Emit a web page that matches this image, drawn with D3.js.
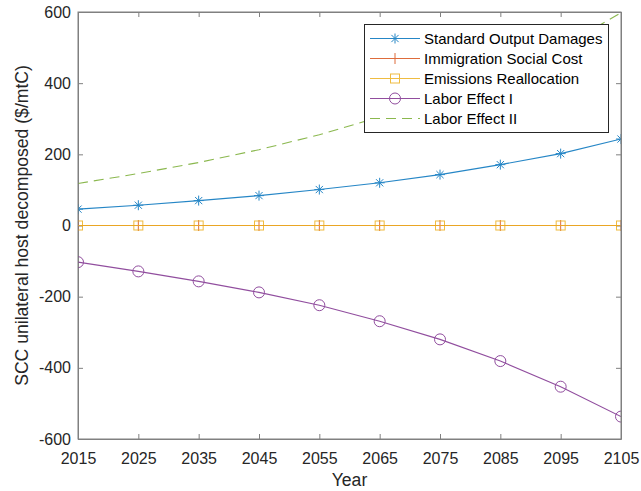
<!DOCTYPE html>
<html>
<head>
<meta charset="utf-8">
<script src="https://cdn.jsdelivr.net/npm/d3@7"></script>
<style>
  html, body { margin: 0; padding: 0; background: #fff; }
  svg { display: block; font-family: "Liberation Sans", Arial, Helvetica, sans-serif; }
</style>
</head>
<body>
<svg id="chart" width="641" height="491"></svg>
<script>
// Years on the horizontal axis
const years = [2015, 2025, 2035, 2045, 2055, 2065, 2075, 2085, 2095, 2105];

// Decomposed SCC components ($/mtC)
const standardOutputDamages = [46, 57, 70, 84, 101, 120, 143, 171, 202, 243];
const immigrationSocialCost = [0, 0, 0, 0, 0, 0, 0, 0, 0, 0];
const emissionsReallocation = [0, 0, 0, 0, 0, 0, 0, 0, 0, 0];
const laborEffectI = [-103, -129, -157, -188, -224, -269, -320, -381, -453, -537];
const laborEffectII = [118, 146, 177, 213, 255, 305, 362, 423, 499, 598];

const seriesNames = ["Standard Output Damages", "Immigration Social Cost", "Emissions Reallocation", "Labor Effect I", "Labor Effect II"];

const xTicks = [2015, 2025, 2035, 2045, 2055, 2065, 2075, 2085, 2095, 2105];
const yTicks = [-600, -400, -200, 0, 200, 400, 600];

const series = [
  { name: seriesNames[0], values: standardOutputDamages, color: "#0072BD", marker: "star", dash: null },
  { name: seriesNames[1], values: immigrationSocialCost, color: "#D95319", marker: "plus", dash: null },
  { name: seriesNames[2], values: emissionsReallocation, color: "#EDB120", marker: "square", dash: null },
  { name: seriesNames[3], values: laborEffectI, color: "#7E2F8E", marker: "circle", dash: null },
  { name: seriesNames[4], values: laborEffectII, color: "#77AC30", marker: null, dash: "10,6" }
];

const svg = d3.select("#chart");
const pLeft = 78, pRight = 621, pTop = 12, pBottom = 439;

const x = d3.scaleLinear().domain([2015, 2105]).range([pLeft, pRight]);
const y = d3.scaleLinear().domain([-600, 600]).range([pBottom, pTop]);

const axisColor = "#808080";
const textColor = "#262626";
const tickFont = 16;
const labelFont = 17.6;

// Plain hyphen for negative tick values
const fmt = d => String(d);

svg.append("defs").append("clipPath").attr("id", "plotClip")
  .append("rect").attr("x", pLeft).attr("y", pTop).attr("width", pRight - pLeft).attr("height", pBottom - pTop);

// Axes with inward ticks, mirrored on top and right
function styleAxis(g) {
  g.select(".domain").attr("stroke", axisColor);
  g.selectAll(".tick line").attr("stroke", axisColor);
  g.selectAll(".tick text").attr("fill", textColor).attr("font-size", tickFont);
}

svg.append("g").attr("transform", `translate(0,${pBottom})`)
  .call(d3.axisBottom(x).tickValues(xTicks).tickFormat(fmt).tickSizeInner(-5).tickSizeOuter(0).tickPadding(13.5))
  .call(styleAxis);
svg.append("g").attr("transform", `translate(0,${pTop})`)
  .call(d3.axisTop(x).tickValues(xTicks).tickFormat("").tickSizeInner(-5).tickSizeOuter(0))
  .call(styleAxis);
svg.append("g").attr("transform", `translate(${pLeft},0)`)
  .call(d3.axisLeft(y).tickValues(yTicks).tickFormat(fmt).tickSizeInner(-5).tickSizeOuter(0).tickPadding(7))
  .call(styleAxis);
svg.append("g").attr("transform", `translate(${pRight},0)`)
  .call(d3.axisRight(y).tickValues(yTicks).tickFormat("").tickSizeInner(-5).tickSizeOuter(0))
  .call(styleAxis);

// Axis titles
svg.append("text").attr("x", (pLeft + pRight) / 2).attr("y", 486)
  .attr("text-anchor", "middle").attr("fill", textColor).attr("font-size", labelFont).text("Year");
svg.append("text").attr("transform", `translate(28,${(pTop + pBottom) / 2}) rotate(-90)`)
  .attr("text-anchor", "middle").attr("fill", textColor).attr("font-size", labelFont)
  .text("SCC unilateral host decomposed ($/mtC)");

// Marker drawing
function drawMarker(g, type, cx, cy, color) {
  if (type === "star") {
    const r = 5;
    g.append("path")
      .attr("d", `M${cx - r},${cy}L${cx + r},${cy}M${cx},${cy - r}L${cx},${cy + r}` +
        `M${cx - r * 0.72},${cy - r * 0.72}L${cx + r * 0.72},${cy + r * 0.72}` +
        `M${cx - r * 0.72},${cy + r * 0.72}L${cx + r * 0.72},${cy - r * 0.72}`)
      .attr("stroke", color).attr("stroke-width", 1).attr("fill", "none");
  } else if (type === "plus") {
    const r = 5.5;
    g.append("path")
      .attr("d", `M${cx - r},${cy}L${cx + r},${cy}M${cx},${cy - r}L${cx},${cy + r}`)
      .attr("stroke", color).attr("stroke-width", 1).attr("fill", "none");
  } else if (type === "square") {
    const r = 4.5;
    g.append("rect").attr("x", cx - r).attr("y", cy - r).attr("width", 2 * r).attr("height", 2 * r)
      .attr("stroke", color).attr("stroke-width", 1).attr("fill", "none");
  } else if (type === "circle") {
    g.append("circle").attr("cx", cx).attr("cy", cy).attr("r", 5.5)
      .attr("stroke", color).attr("stroke-width", 1).attr("fill", "none");
  }
}

const plot = svg.append("g").attr("clip-path", "url(#plotClip)");
const line = d3.line().x((d, i) => x(years[i])).y(d => y(d));

series.forEach(s => {
  const g = plot.append("g").attr("opacity", 0.85);
  g.append("path").datum(s.values).attr("d", line)
    .attr("fill", "none").attr("stroke", s.color).attr("stroke-width", 1.1)
    .attr("stroke-dasharray", s.dash);
  if (s.marker) {
    s.values.forEach((v, i) => drawMarker(g, s.marker, x(years[i]), y(v), s.color));
  }
});

// Axis frame drawn over the data
svg.append("rect").attr("x", pLeft).attr("y", pTop).attr("width", pRight - pLeft).attr("height", pBottom - pTop)
  .attr("fill", "none").attr("stroke", axisColor).attr("stroke-width", 1);

// Legend
const lg = svg.append("g");
const lx = 364, ly = 24, lw = 244, lh = 108;
lg.append("rect").attr("x", lx + 0.5).attr("y", ly + 0.5).attr("width", lw).attr("height", lh)
  .attr("fill", "#fff").attr("stroke", textColor).attr("stroke-width", 1);
series.forEach((s, i) => {
  const yy = 38.5 + i * 20;
  const g = lg.append("g").attr("opacity", 0.85);
  g.append("line").attr("x1", 370).attr("x2", 420).attr("y1", yy).attr("y2", yy)
    .attr("stroke", s.color).attr("stroke-width", 1.1).attr("stroke-dasharray", s.dash);
  if (s.marker) drawMarker(g, s.marker, 395, yy, s.color);
  lg.append("text").attr("x", 424).attr("y", yy + 5).attr("fill", "#000")
    .attr("font-size", 15).text(s.name);
});
</script>
</body>
</html>
